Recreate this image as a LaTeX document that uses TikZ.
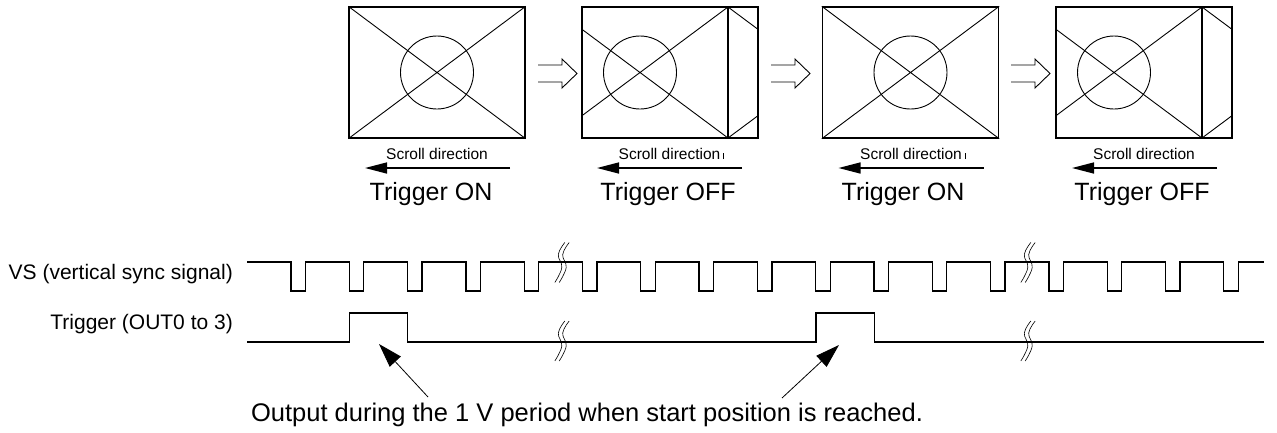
\documentclass[tikz,border=0pt]{standalone}
\usepackage{fontspec}
\setmainfont{Liberation Sans}
\usetikzlibrary{arrows.meta}
\begin{document}
\begin{tikzpicture}[x=1pt,y=-1pt,
  frame/.style={draw, line width=1.4pt, minimum width=176pt, minimum height=131pt, inner sep=0pt},
  seam/.style={line width=1.4pt},
  xline/.style={line width=0.9pt},
  ring/.style={line width=0.9pt},
  wave/.style={line width=1.3pt, line join=miter},
  sd/.style={font=\fontsize{15.5}{18}\selectfont, inner sep=0pt, anchor=base},
  trig/.style={font=\fontsize{25}{30}\selectfont, inner sep=0pt, anchor=base},
  lab/.style={font=\fontsize{21}{25}\selectfont, inner sep=0pt, anchor=base east},
  note/.style={font=\fontsize{25.5}{30}\selectfont, inner sep=0pt, anchor=base},
  scrollarrow/.style={line width=1.5pt, -{Triangle[length=22pt,width=11pt]}},
  pointer/.style={line width=0.8pt, -{Triangle[length=24pt,width=15pt]}},
  bar/.style={line width=0.6pt},
  hollow arrow/.pic={\draw[line width=0.9pt] (0,8.5) -- (24,8.5) -- (24,14.5) -- (39,0) -- (24,-14.5) -- (24,-8.5) -- (0,-8.5);},
  brk mark/.pic={\foreach \d in {-2.2,2.2}{\draw[line width=0.6pt] plot[smooth, tension=0.7] coordinates {({\d+7},-20) ({\d+0.5},-8) ({\d+4},5) ({\d-3},20)};}},
]
\useasboundingbox (0,0) rectangle (1277,432);

% ---- frames ----
\node[frame] (f1) at (437,72.5) {};
\node[frame] (f2) at (670,72.5) {};
\node[frame] (f3) at (910.5,72.5) {};
\node[frame] (f4) at (1144,72.5) {};

% frame 1
\draw[xline] (f1.north west) -- (f1.south east) (f1.south west) -- (f1.north east);
\draw[ring] (f1.center) circle[radius=36.5pt];

% frame 2 (scrolled)
\coordinate (s2t) at (728,7);
\coordinate (s2b) at (728,138);
\begin{scope}
  \clip (f2.south west) rectangle (f2.north east);
  \draw[xline] (552,7) -- (s2b) (552,138) -- (s2t) (s2t) -- (904,138) (s2b) -- (904,7);
  \draw[ring] (640,72.5) circle[radius=36.5pt];
\end{scope}
\draw[seam] (s2t) -- (s2b);

% frame 3
\draw[xline] (f3.north west) -- (f3.south east) (f3.south west) -- (f3.north east);
\draw[ring] (f3.center) circle[radius=36.5pt];

% frame 4 (scrolled)
\coordinate (s4t) at (1202,7);
\coordinate (s4b) at (1202,138);
\begin{scope}
  \clip (f4.south west) rectangle (f4.north east);
  \draw[xline] (1026,7) -- (s4b) (1026,138) -- (s4t) (s4t) -- (1378,138) (s4b) -- (1378,7);
  \draw[ring] (1114,72.5) circle[radius=36.5pt];
\end{scope}
\draw[seam] (s4t) -- (s4b);

% hollow arrows between frames
\pic at (538,73.5) {hollow arrow};
\pic at (771,73.5) {hollow arrow};
\pic at (1011,73.5) {hollow arrow};

% scroll direction labels
\node[sd] (sd1) at (437,159) {Scroll direction};
\node[sd] (sd2) at (669.5,159) {Scroll direction};
\node[sd] (sd3) at (911,159) {Scroll direction};
\node[sd] (sd4) at (1144,159) {Scroll direction};
\draw[bar] ([xshift=3pt]sd2.base east) -- ++(0,-6);
\draw[bar] ([xshift=3pt]sd3.base east) -- ++(0,-6);

% scroll arrows
\coordinate (a1s) at (510,168); \coordinate (a1e) at (365,168);
\coordinate (a2s) at (742,168); \coordinate (a2e) at (597,168);
\coordinate (a3s) at (983.5,168); \coordinate (a3e) at (838.5,168);
\coordinate (a4s) at (1217,168); \coordinate (a4e) at (1072,168);
\draw[scrollarrow] (a1s) -- (a1e);
\draw[scrollarrow] (a2s) -- (a2e);
\draw[scrollarrow] (a3s) -- (a3e);
\draw[scrollarrow] (a4s) -- (a4e);

% trigger state labels
\node[trig] (t1) at (431,200) {Trigger ON};
\node[trig] (t2) at (668,200) {Trigger OFF};
\node[trig] (t3) at (903,200) {Trigger ON};
\node[trig] (t4) at (1142,200) {Trigger OFF};

% signal labels
\node[lab] (vsl) at (233,279) {VS (vertical sync signal)};
\node[lab] (trl) at (233,329) {Trigger (OUT0 to 3)};

% VS waveform
\draw[wave] (247,262)
  \foreach \i in {0,...,16} { -- ({291+58.3*\i},262) -- ({291+58.3*\i},291) -- ({305.5+58.3*\i},291) -- ({305.5+58.3*\i},262) }
  -- (1264,262);

% Trigger waveform
\draw[wave] (247,342) -- (349.3,342) -- (349.3,313) -- (407.6,313) -- (407.6,342)
  -- (816,342) -- (816,313) -- (874.3,313) -- (874.3,342) -- (1264,342);

% break marks
\pic at (560,262.5) {brk mark};
\pic at (560,341) {brk mark};
\pic at (1026,262.5) {brk mark};
\pic at (1026,341) {brk mark};

% note and pointers
\node[note] (nt) at (587,421) {Output during the 1 V period when start position is reached.};
\coordinate (p1tail) at (428,397); \coordinate (p1tip) at (379,344);
\coordinate (p2tail) at (782,398); \coordinate (p2tip) at (839,345);
\draw[pointer] (p1tail) -- (p1tip);
\draw[pointer] (p2tail) -- (p2tip);
\end{tikzpicture}
\end{document}
